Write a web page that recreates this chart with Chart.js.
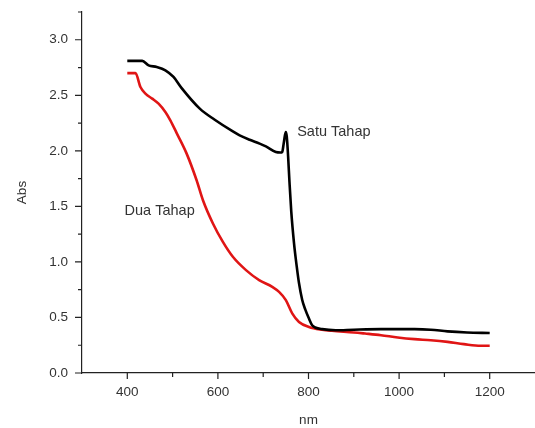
<!DOCTYPE html>
<html>
<head>
<meta charset="utf-8">
<script src="https://cdn.jsdelivr.net/npm/chart.js@4.4.1/dist/chart.umd.min.js"></script>
<style>
    html, body { margin: 0; padding: 0; background: #fff; }
    #wrap { width: 535px; height: 428px; position: relative; }
</style>
</head>
<body>
<div id="wrap"><canvas id="absChart"></canvas></div>
<script>
// Satu Tahap (black) spectrum
const satuNm = [400, 433, 447, 465, 484, 502, 520, 560, 593, 633, 648, 670, 692, 706, 728, 738, 742, 745, 748, 750, 752, 755, 758, 762, 768, 774, 779, 786, 793, 801, 808, 815, 830, 860, 900, 960, 1000, 1034, 1070, 1107, 1150, 1200];
const satuAbs = [2.81, 2.81, 2.77, 2.755, 2.725, 2.665, 2.565, 2.38, 2.28, 2.175, 2.14, 2.10, 2.065, 2.04, 1.99, 1.985, 1.99, 2.06, 2.14, 2.17, 2.13, 1.95, 1.72, 1.45, 1.17, 0.96, 0.81, 0.66, 0.57, 0.49, 0.43, 0.41, 0.395, 0.385, 0.39, 0.395, 0.395, 0.395, 0.39, 0.375, 0.365, 0.36];

// Dua Tahap (red) spectrum
const duaNm = [400, 418, 429, 440, 455, 469, 484, 495, 509, 531, 553, 567, 589, 611, 633, 662, 691, 720, 735, 750, 764, 779, 801, 830, 852, 900, 925, 960, 997, 1034, 1070, 1107, 1143, 1180, 1200];
const duaAbs = [2.70, 2.70, 2.575, 2.515, 2.47, 2.425, 2.35, 2.275, 2.16, 1.975, 1.735, 1.555, 1.346, 1.18, 1.046, 0.926, 0.836, 0.776, 0.73, 0.656, 0.537, 0.46, 0.415, 0.39, 0.38, 0.365, 0.355, 0.34, 0.32, 0.305, 0.295, 0.28, 0.26, 0.245, 0.245];

// Tick labels
const xTicks = [400, 600, 800, 1000, 1200];
const xMinor = [500, 700, 900, 1100];
const yTicks = [0, 0.5, 1.0, 1.5, 2.0, 2.5, 3.0];
const yMinor = [0.25, 0.75, 1.25, 1.75, 2.25, 2.75, 3.25];

const FONT = 'Liberation Sans, Arial, sans-serif';
const TEXT = '#333';

const toPoints = (xs, ys) => xs.map((x, i) => ({ x: x, y: ys[i] }));

// Tick marks (major + minor) and the curve labels
const axisDecor = {
    id: 'axisDecor',
    afterDraw(chart) {
        const { ctx, scales: { x, y } } = chart;
        const axisX = chart.chartArea.left;
        const axisY = chart.chartArea.bottom;
        ctx.save();
        ctx.strokeStyle = '#222';
        ctx.lineWidth = 1.2;
        ctx.beginPath();
        xTicks.forEach(v => { const px = x.getPixelForValue(v); ctx.moveTo(px, axisY); ctx.lineTo(px, axisY + 6); });
        xMinor.forEach(v => { const px = x.getPixelForValue(v); ctx.moveTo(px, axisY); ctx.lineTo(px, axisY + 4); });
        yTicks.forEach(v => { const py = y.getPixelForValue(v); ctx.moveTo(axisX, py); ctx.lineTo(axisX - 7, py); });
        yMinor.forEach(v => { const py = y.getPixelForValue(v); ctx.moveTo(axisX, py); ctx.lineTo(axisX - 4, py); });
        ctx.stroke();

        ctx.fillStyle = TEXT;
        ctx.font = '14.5px ' + FONT;
        ctx.textBaseline = 'middle';
        ctx.textAlign = 'left';
        ctx.fillText('Satu Tahap', x.getPixelForValue(775), y.getPixelForValue(2.17));
        ctx.fillText('Dua Tahap', x.getPixelForValue(394), y.getPixelForValue(1.457));
        ctx.restore();
    }
};

const ctx = document.getElementById('absChart').getContext('2d');
new Chart(ctx, {
    type: 'line',
    data: {
        datasets: [{
            label: 'Satu Tahap',
            data: toPoints(satuNm, satuAbs),
            borderColor: '#000000',
            borderWidth: 2.6,
            pointRadius: 0,
            cubicInterpolationMode: 'monotone'
        }, {
            label: 'Dua Tahap',
            data: toPoints(duaNm, duaAbs),
            borderColor: '#e01515',
            borderWidth: 2.6,
            pointRadius: 0,
            cubicInterpolationMode: 'monotone'
        }]
    },
    options: {
        responsive: true,
        maintainAspectRatio: false,
        animation: false,
        layout: { padding: { top: 12, right: 0, left: 0, bottom: 0 } },
        plugins: {
            legend: { display: false },
            tooltip: { enabled: false }
        },
        scales: {
            x: {
                type: 'linear',
                min: 300,
                max: 1300,
                afterBuildTicks: s => { s.ticks = xTicks.map(v => ({ value: v })); },
                afterFit: s => { s.height = 55; s.paddingLeft = 0; s.paddingRight = 0; },
                grid: { display: true, drawOnChartArea: false, drawTicks: false },
                border: { display: true, color: '#222', width: 1.2 },
                ticks: { padding: 11, color: TEXT, font: { family: FONT, size: 13.5 }, callback: v => String(v) },
                title: { display: true, text: 'nm', color: TEXT, padding: { top: 0, bottom: 0 }, font: { family: FONT, size: 13.5 } }
            },
            y: {
                type: 'linear',
                min: 0,
                max: 3.25,
                afterBuildTicks: s => { s.ticks = yTicks.map(v => ({ value: v })); },
                afterFit: s => { s.width = 82; s.paddingTop = 0; s.paddingBottom = 0; },
                grid: { display: true, drawOnChartArea: false, drawTicks: false },
                border: { display: true, color: '#222', width: 1.2 },
                ticks: { padding: 14, color: TEXT, font: { family: FONT, size: 13.5 }, callback: v => v.toFixed(1) },
                title: { display: true, text: 'Abs', color: TEXT, padding: { top: 14, bottom: 0 }, font: { family: FONT, size: 13.5 } }
            }
        }
    },
    plugins: [axisDecor]
});
</script>
</body>
</html>
